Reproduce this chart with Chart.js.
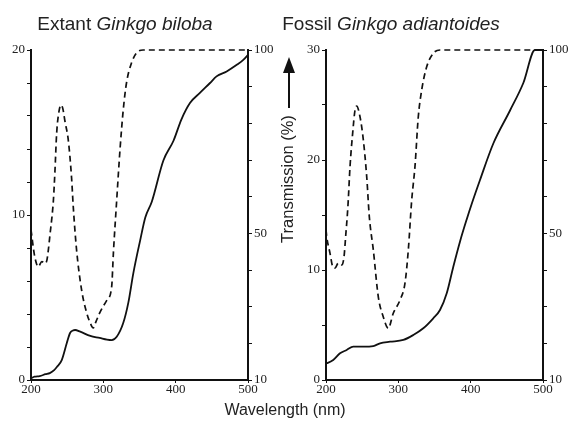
<!DOCTYPE html>
<html>
<head>
<meta charset="utf-8">
<script src="https://cdn.jsdelivr.net/npm/chart.js@4.4.1/dist/chart.umd.min.js"></script>
<style>
  body { margin: 0; background: #fff; }
  #wrap { position: relative; width: 571px; height: 423px; overflow: hidden; font-family: "Liberation Sans", Arial, sans-serif; color: #222; }
  canvas { position: absolute; top: 0; }
  .titulo { position: absolute; top: 13px; font-size: 19px; line-height: 22px; white-space: nowrap; transform: translateX(-50%); }
  #eje-y { position: absolute; left: 287px; top: 179px; font-size: 16.5px; line-height: 18px; white-space: nowrap; transform: translate(-50%, -50%) rotate(-90deg); }
  #flecha { position: absolute; left: 288px; top: 72px; width: 2px; height: 36px; background: #111; }
  #punta { position: absolute; left: 283px; top: 57px; width: 0; height: 0; border-left: 6px solid transparent; border-right: 6px solid transparent; border-bottom: 16px solid #111; }
  #eje-x { position: absolute; left: 285px; top: 400px; font-size: 16px; line-height: 20px; white-space: nowrap; transform: translateX(-50%); }
</style>
</head>
<body>
<div id="wrap">
  <canvas id="grafico-extant" width="285" height="423" style="left:0"></canvas>
  <canvas id="grafico-fossil" width="286" height="423" style="left:285px"></canvas>
  <div class="titulo" style="left:125px">Extant <i>Ginkgo biloba</i></div>
  <div class="titulo" style="left:391px">Fossil <i>Ginkgo adiantoides</i></div>
  <div id="punta"></div>
  <div id="flecha"></div>
  <div id="eje-y">Transmission (%)</div>
  <div id="eje-x">Wavelength (nm)</div>
</div>
<script>
// Extant Ginkgo biloba - dashed curve (transmission, right axis)
const extantTransWl = [200, 201, 203, 205.5, 210, 215, 219.5, 222, 224, 226.5, 229, 231, 233, 235.5, 239, 241.5, 244, 247, 251.5, 256, 258.5, 263, 270, 277, 282, 286, 290, 295, 305, 311.5, 314, 318.5, 323, 327.5, 332, 339, 346, 355, 500];
const extantTransVal = [51, 49.5, 46.4, 43.3, 40.9, 42.3, 41.8, 42.7, 45.5, 50.1, 54.5, 59.1, 66.5, 77.4, 83.6, 85, 84, 80.5, 75.5, 65.4, 57, 45.5, 34.5, 28.3, 25.5, 24.2, 26, 28.3, 31.8, 35.4, 45, 59.1, 72.7, 83.6, 91, 96.5, 99.2, 100, 100];

// Extant Ginkgo biloba - solid curve (left axis)
const extantAbsWl = [200, 205, 212, 220, 226, 232, 236, 242.5, 249.5, 254, 258, 261, 268, 282, 295, 305, 311.5, 318.5, 327.5, 334.5, 341.5, 351, 358, 367, 383, 397, 408, 420, 433.5, 447.5, 456.5, 470.5, 484.5, 493.5, 500];
const extantAbsVal = [0.1, 0.2, 0.24, 0.35, 0.42, 0.6, 0.8, 1.21, 2.24, 2.85, 3.0, 3.03, 2.93, 2.67, 2.55, 2.45, 2.42, 2.62, 3.45, 4.67, 6.48, 8.48, 9.85, 10.8, 13.3, 14.5, 15.8, 16.8, 17.4, 18.0, 18.4, 18.7, 19.1, 19.4, 19.7];

// Fossil Ginkgo adiantoides - dashed curve (transmission, right axis)
const fossilTransWl = [200, 201, 205.5, 209.3, 212.4, 217, 221.7, 224.9, 227.5, 229.5, 230.8, 233.2, 236.9, 240.1, 242.4, 247, 251.6, 256.3, 259.9, 265.4, 272.3, 279.2, 286.1, 293, 302.3, 309.2, 313.8, 318.5, 323, 327.6, 332.3, 339.2, 348.3, 357.6, 500];
const fossilTransVal = [51, 49.1, 44.6, 40.9, 40.5, 41.9, 41.4, 43.6, 50, 55, 59.1, 68.2, 77.4, 83.6, 84.7, 81.8, 75.5, 65.4, 54.5, 45.5, 32.7, 27.2, 24.1, 28.2, 31.8, 36.4, 45.5, 59.1, 68.2, 81.8, 89.1, 95.4, 99.1, 100, 100];

// Fossil Ginkgo adiantoides - solid curve (left axis)
const fossilAbsWl = [200, 201, 210, 219.4, 228.6, 237.7, 251.6, 265.4, 274.7, 288.5, 306.9, 320.7, 334.5, 348.3, 357.6, 366.9, 376, 385.3, 394.5, 401.4, 412.9, 431.3, 454.4, 472.8, 488.9, 500];
const fossilAbsVal = [1.5, 1.52, 1.82, 2.43, 2.73, 3.03, 3.03, 3.09, 3.34, 3.48, 3.64, 4.09, 4.7, 5.61, 6.36, 7.88, 10.3, 12.6, 14.6, 16.0, 18.18, 21.5, 24.5, 27, 30, 30];

// ticks
const xTicks = [200, 300, 400, 500];
const transLabels = [10, 50, 100];
const extantLeftLabels = [0, 10, 20];
const fossilLeftLabels = [0, 10, 20, 30];

( function() {

    const fuenteTicks = { family: '"Liberation Serif", "Times New Roman", serif', size: 13 };
    const negro = '#111';

    function puntos(wl, val) {
        return wl.map((w, i) => ({ x: w, y: val[i] }));
    }

    function crearGrafico(id, opciones) {
        new Chart(
          document.getElementById(id),
          {
            type: 'line',
            data: {
              datasets: [
                {
                  label: 'Transmission',
                  data: puntos(opciones.transWl, opciones.transVal),
                  yAxisID: 'y2',
                  borderColor: negro,
                  borderWidth: 1.7,
                  borderDash: [6, 4],
                  pointRadius: 0,
                  cubicInterpolationMode: 'monotone',
                  clip: 4
                },
                {
                  label: 'Solid',
                  data: puntos(opciones.absWl, opciones.absVal),
                  yAxisID: 'y',
                  borderColor: negro,
                  borderWidth: 1.8,
                  pointRadius: 0,
                  cubicInterpolationMode: 'monotone',
                  clip: 4
                }
              ]
            },
            options: {
              responsive: false,
              animation: false,
              devicePixelRatio: 1,
              layout: { padding: { top: 50 } },
              plugins: { legend: { display: false }, tooltip: { enabled: false } },
              scales: {
                x: {
                  type: 'linear',
                  min: 200,
                  max: 500,
                  afterFit: s => { s.height = 43; },
                  afterBuildTicks: s => { s.ticks = xTicks.map(v => ({ value: v })); },
                  border: { display: true, color: negro, width: 2 },
                  grid: { display: true, drawOnChartArea: false, color: negro, tickLength: 3, lineWidth: 1 },
                  ticks: { color: '#222', font: fuenteTicks, padding: -1, maxRotation: 0, autoSkip: false }
                },
                y: {
                  position: 'left',
                  min: 0,
                  max: opciones.leftMax,
                  afterFit: s => { s.width = opciones.leftWidth; },
                  border: { display: true, color: negro, width: 2 },
                  grid: { display: true, drawOnChartArea: false, color: negro, tickLength: 4, lineWidth: 1 },
                  ticks: {
                    stepSize: opciones.leftStep,
                    autoSkip: false,
                    color: '#222',
                    font: fuenteTicks,
                    padding: 2,
                    callback: v => opciones.leftLabels.includes(v) ? String(v) : ''
                  }
                },
                y2: {
                  position: 'right',
                  min: 10,
                  max: 100,
                  afterFit: s => { s.width = opciones.rightWidth; },
                  border: { display: true, color: negro, width: 2 },
                  grid: { display: true, drawOnChartArea: false, color: negro, tickLength: 4, lineWidth: 1 },
                  ticks: {
                    stepSize: 10,
                    autoSkip: false,
                    color: '#222',
                    font: fuenteTicks,
                    padding: 2,
                    callback: v => transLabels.includes(v) ? String(v) : ''
                  }
                }
              }
            }
          }
        );
    }

    crearGrafico('grafico-extant', {
        transWl: extantTransWl, transVal: extantTransVal,
        absWl: extantAbsWl, absVal: extantAbsVal,
        leftMax: 20, leftStep: 2, leftLabels: extantLeftLabels,
        leftWidth: 31, rightWidth: 37
    });

    crearGrafico('grafico-fossil', {
        transWl: fossilTransWl, transVal: fossilTransVal,
        absWl: fossilAbsWl, absVal: fossilAbsVal,
        leftMax: 30, leftStep: 5, leftLabels: fossilLeftLabels,
        leftWidth: 41, rightWidth: 28
    });

})();
</script>
</body>
</html>
